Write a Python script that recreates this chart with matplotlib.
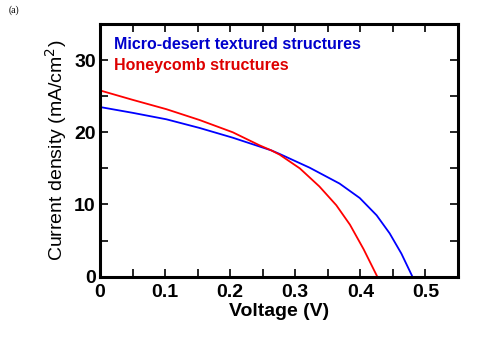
import matplotlib
matplotlib.use("Agg")
import matplotlib.pyplot as plt
from matplotlib.ticker import MultipleLocator

plt.rcParams['font.family'] = ['Liberation Sans', 'DejaVu Sans']

# J-V curves
v_micro = [0, 0.050, 0.102, 0.153, 0.204, 0.263, 0.276, 0.322, 0.368, 0.399, 0.425, 0.445, 0.463, 0.480]
j_micro = [23.5, 22.7, 21.8, 20.6, 19.25, 17.5, 17.0, 15.1, 12.9, 10.9, 8.5, 6.0, 3.2, 0]
v_honey = [0, 0.050, 0.102, 0.153, 0.204, 0.229, 0.245, 0.263, 0.276, 0.307, 0.337, 0.363, 0.384, 0.405, 0.426]
j_honey = [25.8, 24.5, 23.2, 21.7, 20.0, 18.9, 18.2, 17.5, 16.9, 15.0, 12.5, 9.9, 7.2, 3.8, 0]

fig = plt.figure(figsize=(4.86, 3.44), dpi=100)
ax = fig.add_axes([0.2058, 0.1957, 0.7366, 0.7345])

ax.plot(v_micro, j_micro, color='#0000ff', lw=1.3)
ax.plot(v_honey, j_honey, color='#ff0000', lw=1.3)

ax.set_xlim(0, 0.55)
ax.set_ylim(0, 35)
ax.xaxis.set_minor_locator(MultipleLocator(0.05))
ax.yaxis.set_major_locator(MultipleLocator(10))
ax.yaxis.set_minor_locator(MultipleLocator(5))
ax.set_xticks([0, 0.1, 0.2, 0.3, 0.4, 0.5])
ax.set_xticklabels(['0', '0.1', '0.2', '0.3', '0.4', '0.5'])
ax.tick_params(which='both', direction='in', top=True, right=True, width=1.2)
ax.tick_params(which='major', length=6, labelsize=14)
ax.tick_params(which='minor', length=6)
ax.tick_params(axis='x', pad=5)
ax.tick_params(axis='y', pad=3)
for lab in ax.get_xticklabels() + ax.get_yticklabels():
    lab.set_fontweight('bold')
for s in ax.spines.values():
    s.set_linewidth(2.2)

ax.set_xlabel('Voltage (V)', fontsize=14, fontweight='bold', labelpad=2)
ax.set_ylabel('Current density (mA/cm$^2$)', fontsize=14, labelpad=4)

ax.text(0.04, 0.92, 'Micro-desert textured structures', color='#0000cc',
        fontsize=11.5, fontweight='bold', transform=ax.transAxes, va='center')
ax.text(0.04, 0.835, 'Honeycomb structures', color='#dd0000',
        fontsize=11.5, fontweight='bold', transform=ax.transAxes, va='center')

fig.text(0.018, 0.962, '(a)', fontsize=7, family='Liberation Serif')

fig.savefig('out.png', dpi=100)
